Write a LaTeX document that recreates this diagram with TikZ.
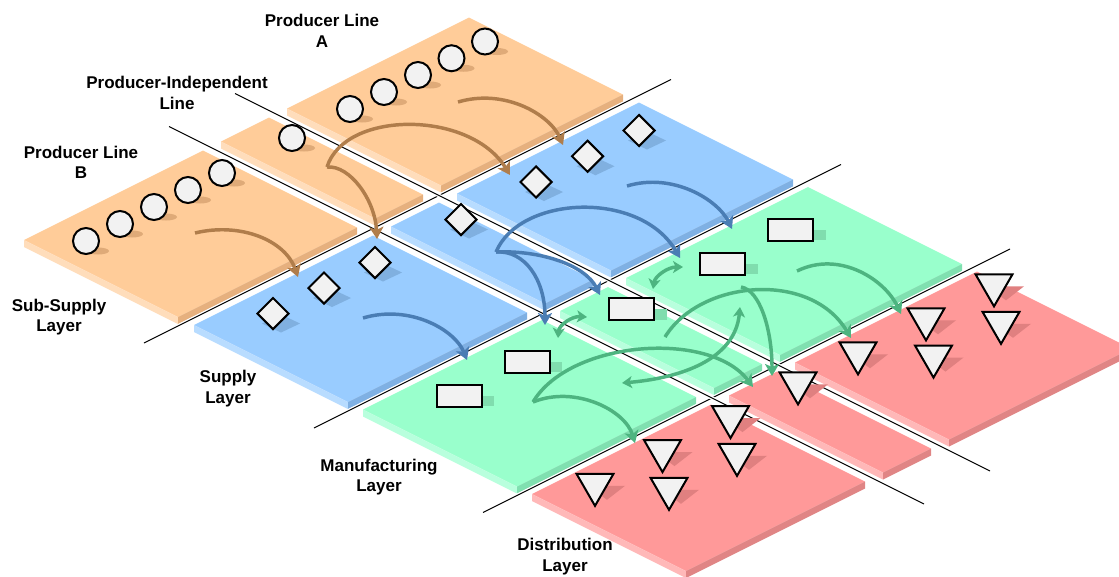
\documentclass[tikz,border=0pt]{standalone}
\usepackage{fontspec}
\setmainfont{Liberation Sans}
\usetikzlibrary{arrows.meta,shapes.geometric}

% plate colours: top face, light (left) side, dark (right) side, shadow
\definecolor{subtop}{HTML}{FFCC99}
\definecolor{sublight}{HTML}{FFDDBB}
\definecolor{subdark}{HTML}{E6B07E}
\definecolor{subshadow}{HTML}{DFAA78}
\definecolor{suptop}{HTML}{99CCFF}
\definecolor{suplight}{HTML}{B8DCFF}
\definecolor{supdark}{HTML}{7FB0E3}
\definecolor{supshadow}{HTML}{80B0E0}
\definecolor{mantop}{HTML}{99FFCC}
\definecolor{manlight}{HTML}{B8FFDD}
\definecolor{mandark}{HTML}{80E0B0}
\definecolor{manshadow}{HTML}{80DDAE}
\definecolor{distop}{HTML}{FF9999}
\definecolor{dislight}{HTML}{FFB8B8}
\definecolor{disdark}{HTML}{E08585}
\definecolor{disshadow}{HTML}{E08080}
\definecolor{itemfill}{HTML}{F2F2F2}
\definecolor{brownflow}{HTML}{B07D4B}
\definecolor{blueflow}{HTML}{4A7DB4}
\definecolor{greenflow}{HTML}{4DB480}

% one isometric plate: #1 = near edge (a), #2/#3 = b range, #4 = colour prefix
\newcommand{\plate}[4]{%
  \fill[#4top] (#1,#2) -- ({#1+154},#2) -- ({#1+154},#3) -- (#1,#3) -- cycle;
  \fill[#4light] (#1,#2) -- ({#1+154},#2) -- ({#1+161},{#2-7}) -- ({#1+7},{#2-7}) -- cycle;
  \fill[#4dark] ({#1+154},#2) -- ({#1+154},#3) -- ({#1+161},{#3-7}) -- ({#1+161},{#2-7}) -- cycle;
}

\begin{document}
\begin{tikzpicture}[x=0.75pt, y=-0.75pt,
    iso/.style={x={(0.75pt,-0.375pt)}, y={(0.75pt,0.375pt)}},
    px/.style={x=0.75pt, y=-0.75pt},
    sepline/.style={draw=black, line width=0.7pt, preaction={draw=white, line width=2.6pt}},
    item/.style={draw=black, line width=1.5pt, fill=itemfill, inner sep=0pt},
    circ/.style={item, circle, minimum size=19.5pt},
    diam/.style={item, diamond, minimum size=24pt},
    box/.style={item, rectangle, minimum width=33.75pt, minimum height=16.5pt},
    tri/.style={item, regular polygon, regular polygon sides=3, shape border rotate=180, minimum size=32pt},
    flow/.style={line width=2.6pt, -{Stealth[length=9pt,width=10.5pt,inset=2.2pt]}},
    twoway/.style={line width=2.6pt, {Stealth[length=7.5pt,width=9pt,inset=2pt]}-{Stealth[length=7.5pt,width=9pt,inset=2pt]}},
    lbl/.style={font=\bfseries\fontsize{12.75}{15.4}\selectfont, align=center}]

    \useasboundingbox (0,0) rectangle (1119,576);
    \clip (0,0) rectangle (1119,576);

    \begin{scope}[iso]
        % Plates: one layer per column, one producer line per row
        \foreach \a/\c in {252/sub,422/sup,591/man,760/dis} {
            \foreach \bl/\bh in {35/217,-31/17,-228/-49} {
                \plate{\a}{\bl}{\bh}{\c}
            }
        }

        % Separators
        \foreach \a in {415,585,754}
            \draw[sepline] (\a,-271) -- (\a,256);
        \foreach \b in {-42,24}
            \draw[sepline] (211,\b) -- (966,\b);

        % Producers
        \foreach \b [count=\i] in {-198,-164,-130,-96,-62,8,66,100,134,167.5,201} {
            \begin{scope}[shift={(284,\b)}, px]
                \fill[subshadow] (12,10) ellipse [x radius=11, y radius=3.5];
                \node[circ] (prod\i) at (0,0) {};
            \end{scope}
        }

        % Suppliers
        \foreach \b [count=\i] in {-177,-126,-75,11,86,137.5,189} {
            \begin{scope}[shift={(450,\b)}, px]
                \fill[supshadow] (-11,10) -- (8,1) -- (27,10) -- (8,19) -- cycle;
                \node[diam] (supp\i) at (0,0) {};
            \end{scope}
        }

        % Manufacturers
        \foreach \b [count=\i] in {-166,-98,6.5,97.5,165.5} {
            \begin{scope}[shift={(625,\b)}, px]
                \fill[manshadow] (-10,0) rectangle (35,10.5);
                \node[box] (manu\i) at (0,0) {};
            \end{scope}
        }

        % Distributors
        \foreach \a/\b [count=\i] in {782/-187,823/-154,782/-119.5,823/-86,782/-51.5,
                                     782/16,782/76,823/110.5,782/144,823/178,782/212} {
            \begin{scope}[shift={(\a,\b)}, px]
                \fill[disshadow] (-7,1.3) -- (30,1.3) -- (12,15.3) -- cycle;
                \node[tri] (dist\i) at (0,0) {};
            \end{scope}
        }
    \end{scope}

    % Flow ends
    \coordinate (oB) at (195,233);  \coordinate (oBt) at (298,277);
    \coordinate (oA) at (458,102);  \coordinate (oAt) at (563,145);
    \coordinate (oI) at (327,167);  \coordinate (oIa) at (510,175);
    \coordinate (oIb) at (377,239);
    \coordinate (bB) at (363,318);  \coordinate (bBt) at (467,360);
    \coordinate (bA) at (627,186);  \coordinate (bAt) at (732,229);
    \coordinate (bI) at (496,252);  \coordinate (bIa) at (680,258);
    \coordinate (bIb) at (600,295); \coordinate (bIc) at (545,325);
    \coordinate (gA) at (797,271);  \coordinate (gAt) at (901,314);
    \coordinate (gB) at (533,402);  \coordinate (gBa) at (753,387);
    \coordinate (gBb) at (635,443);
    \coordinate (gI) at (741,287);  \coordinate (gIt) at (772,376);
    \coordinate (gC) at (665,337);  \coordinate (gCt) at (851,338);
    \coordinate (g1a) at (558,338); \coordinate (g1b) at (587,317);
    \coordinate (g2a) at (653,289); \coordinate (g2b) at (683,267);
    \coordinate (g3a) at (622,383); \coordinate (g3b) at (740,307);

    % Sub-supply flows
    \draw[flow, brownflow] (oB) .. controls (240,222) and (285,240) .. (oBt);
    \draw[flow, brownflow] (oA) .. controls (505,88) and (550,115) .. (oAt);
    \draw[flow, brownflow] (oI) .. controls (345,110) and (470,110) .. (oIa);
    \draw[flow, brownflow] (oI) .. controls (350,165) and (375,200) .. (oIb);

    % Supply flows
    \draw[flow, blueflow] (bB) .. controls (410,304) and (455,330) .. (bBt);
    \draw[flow, blueflow] (bA) .. controls (673,172) and (718,200) .. (bAt);
    \draw[flow, blueflow] (bI) .. controls (520,195) and (640,190) .. (bIa);
    \draw[flow, blueflow] (bI) .. controls (540,250) and (585,265) .. (bIb);
    \draw[flow, blueflow] (bI) .. controls (525,250) and (545,280) .. (bIc);

    % Manufacturing flows
    \draw[flow, greenflow] (gA) .. controls (840,250) and (885,280) .. (gAt);
    \draw[flow, greenflow] (gB) .. controls (570,340) and (710,330) .. (gBa);
    \draw[flow, greenflow] (gB) .. controls (575,385) and (625,410) .. (gBb);
    \draw[flow, greenflow] (gI) .. controls (760,290) and (772,330) .. (gIt);
    \draw[flow, greenflow] (gC) .. controls (700,280) and (810,270) .. (gCt);
    \draw[twoway, greenflow] (g1a) .. controls (559,325) and (572,316) .. (g1b);
    \draw[twoway, greenflow] (g2a) .. controls (655,276) and (668,267) .. (g2b);
    \draw[twoway, greenflow] (g3a) .. controls (680,378) and (735,360) .. (g3b);

    % Labels
    \node[lbl] (lineA) at (322,31) {Producer Line\\A};
    \node[lbl] (lineI) at (177,93) {Producer-Independent\\Line};
    \node[lbl] (lineB) at (81,162.5) {Producer Line\\B};
    \node[lbl] (subsupply) at (59,317) {Sub-Supply\\Layer};
    \node[lbl] (supply) at (228,388.5) {Supply\\Layer};
    \node[lbl] (manufacturing) at (379,477) {Manufacturing\\Layer};
    \node[lbl] (distribution) at (565,556.5) {Distribution\\Layer};
\end{tikzpicture}
\end{document}
